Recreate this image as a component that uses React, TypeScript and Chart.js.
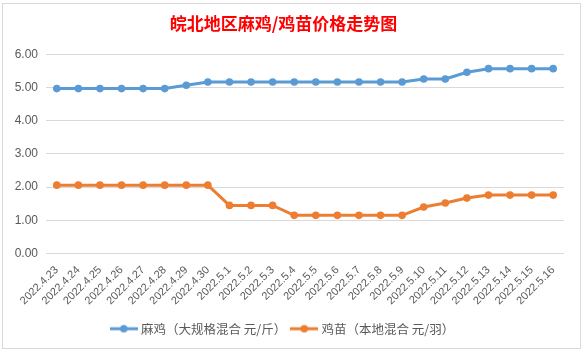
import React, { useEffect, useRef } from "react";
import { Chart, registerables } from "chart.js";

Chart.register(...registerables);

const titleText = "皖北地区麻鸡/鸡苗价格走势图";
const categories = [
  "2022.4.23", "2022.4.24", "2022.4.25", "2022.4.26", "2022.4.27", "2022.4.28",
  "2022.4.29", "2022.4.30", "2022.5.1", "2022.5.2", "2022.5.3", "2022.5.4",
  "2022.5.5", "2022.5.6", "2022.5.7", "2022.5.8", "2022.5.9", "2022.5.10",
  "2022.5.11", "2022.5.12", "2022.5.13", "2022.5.14", "2022.5.15", "2022.5.16",
];
const seriesNames = ["麻鸡（大规格混合 元/斤）", "鸡苗（本地混合 元/羽）"];
const maJi = [
  4.97, 4.97, 4.97, 4.97, 4.97, 4.97, 5.07, 5.17, 5.17, 5.17, 5.17, 5.17,
  5.17, 5.17, 5.17, 5.17, 5.17, 5.26, 5.26, 5.46, 5.57, 5.57, 5.57, 5.57,
];
const jiMiao = [
  2.06, 2.06, 2.06, 2.06, 2.06, 2.06, 2.06, 2.06, 1.45, 1.45, 1.45, 1.15,
  1.15, 1.15, 1.15, 1.15, 1.15, 1.40, 1.52, 1.67, 1.76, 1.76, 1.76, 1.76,
];
const yMin = 0;
const yMax = 6;
const yStep = 1;

const BLUE = "#5b9bd5";
const ORANGE = "#ed7d31";
const TEXT = "#595959";
const GRID = "#d9d9d9";

function legendIcon(color: string): HTMLCanvasElement {
  const c = document.createElement("canvas");
  c.width = 28;
  c.height = 10;
  const ctx = c.getContext("2d")!;
  ctx.strokeStyle = color;
  ctx.lineWidth = 3;
  ctx.beginPath();
  ctx.moveTo(0, 5);
  ctx.lineTo(28, 5);
  ctx.stroke();
  ctx.fillStyle = color;
  ctx.beginPath();
  ctx.arc(14, 5, 3.8, 0, Math.PI * 2);
  ctx.fill();
  return c;
}

export default function App() {
  const ref = useRef<HTMLCanvasElement | null>(null);

  useEffect(() => {
    if (!ref.current) return;
    const icons = [legendIcon(BLUE), legendIcon(ORANGE)];
    const chart = new Chart(ref.current, {
      type: "line",
      data: {
        labels: categories,
        datasets: [
          {
            label: seriesNames[0],
            data: maJi,
            borderColor: BLUE,
            backgroundColor: BLUE,
            borderWidth: 3,
            pointRadius: 3.8,
            pointBackgroundColor: BLUE,
            pointBorderWidth: 0,
            tension: 0,
          },
          {
            label: seriesNames[1],
            data: jiMiao,
            borderColor: ORANGE,
            backgroundColor: ORANGE,
            borderWidth: 3,
            pointRadius: 3.8,
            pointBackgroundColor: ORANGE,
            pointBorderWidth: 0,
            tension: 0,
          },
        ],
      },
      options: {
        animation: false,
        responsive: false,
        maintainAspectRatio: false,
        layout: { padding: { left: 0, right: 16, top: 0, bottom: 3 } },
        plugins: {
          title: {
            display: true,
            text: titleText,
            color: "#ff0000",
            font: { family: "'Noto Sans CJK SC'", size: 17, weight: "bold" },
            padding: { top: 9, bottom: 21 },
          },
          legend: {
            position: "bottom",
            labels: {
              color: TEXT,
              font: { family: "'Noto Sans CJK SC'", size: 12.5 },
              usePointStyle: true,
              pointStyleWidth: 22,
              padding: 7,
              generateLabels: (ch: any) => {
                const items = Chart.defaults.plugins.legend.labels.generateLabels(ch);
                return items.map((it: any, i: number) => ({ ...it, pointStyle: icons[i] }));
              },
            },
          },
          tooltip: { enabled: false },
        },
        scales: {
          x: {
            offset: true,
            grid: { display: false },
            border: { display: false },
            ticks: {
              color: TEXT,
              font: { family: "'Liberation Sans'", size: 11 },
              minRotation: 45,
              maxRotation: 45,
              autoSkip: false,
              padding: 2,
            },
            afterFit: (s: any) => {
              s.height = 62;
            },
          },
          y: {
            min: yMin,
            max: yMax,
            grid: { color: GRID, drawTicks: false, lineWidth: 1 },
            border: { display: false },
            ticks: {
              stepSize: yStep,
              color: TEXT,
              font: { family: "'Liberation Sans'", size: 12 },
              padding: 8,
              callback: (v: any) => Number(v).toFixed(2),
            },
            afterFit: (s: any) => {
              s.width = 43;
            },
          },
        },
      },
    });
    return () => chart.destroy();
  }, []);

  return (
    <div style={{ position: "absolute", left: 0, top: 0, width: 583, height: 352, background: "#fff" }}>
      <div
        style={{
          position: "absolute",
          left: 2,
          top: 3,
          width: 577,
          height: 344,
          border: "1px solid #d9d9d9",
          background: "#fff",
        }}
      >
        <canvas ref={ref} width={577} height={344} style={{ display: "block", width: 577, height: 344 }} />
      </div>
    </div>
  );
}
